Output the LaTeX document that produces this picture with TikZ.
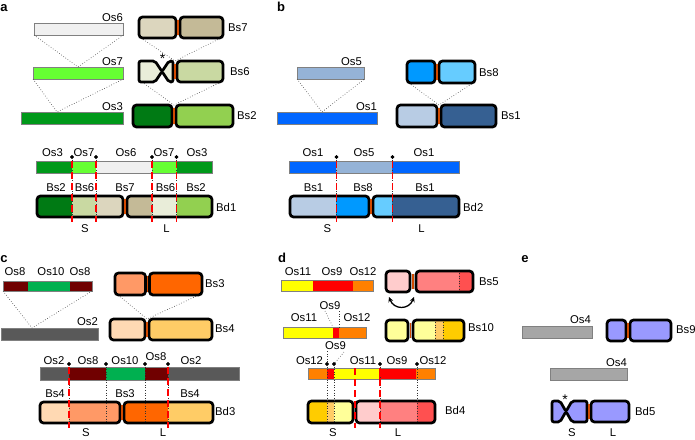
\documentclass[tikz,border=0pt]{standalone}
\usepackage{fontspec}
\setmainfont{Liberation Sans}
\usetikzlibrary{arrows.meta,positioning}
% bars (Os)
\definecolor{os1}{HTML}{0066FF}
\definecolor{os2}{HTML}{595959}
\definecolor{os3}{HTML}{00991A}
\definecolor{os4}{HTML}{A6A6A6}
\definecolor{os5}{HTML}{95B3D7}
\definecolor{os6}{HTML}{F0F0F0}
\definecolor{os7}{HTML}{66FF33}
\definecolor{os8}{HTML}{700000}
\definecolor{os9}{HTML}{FF0000}
\definecolor{os10}{HTML}{00B050}
\definecolor{os11}{HTML}{FFFF00}
\definecolor{os12}{HTML}{FF8000}
% chromosome arms (Bs)
\definecolor{bs1L}{HTML}{B8CCE4}
\definecolor{bs1R}{HTML}{366092}
\definecolor{bs2L}{HTML}{007A14}
\definecolor{bs2R}{HTML}{92D050}
\definecolor{bs3L}{HTML}{FF9966}
\definecolor{bs3R}{HTML}{FF6600}
\definecolor{bs4L}{HTML}{FFD9B3}
\definecolor{bs4R}{HTML}{FFCC66}
\definecolor{bs5L}{HTML}{FFCCCC}
\definecolor{bs5R}{HTML}{FF8080}
\definecolor{bs5E}{HTML}{FF5050}
\definecolor{bs6L}{HTML}{E9EDD9}
\definecolor{bs6R}{HTML}{C9D9A2}
\definecolor{bs7L}{HTML}{DCD6BE}
\definecolor{bs7R}{HTML}{C4BA97}
\definecolor{bs8L}{HTML}{0099FF}
\definecolor{bs8R}{HTML}{66CCFF}
\definecolor{bs9}{HTML}{9999FF}
\definecolor{bs10L}{HTML}{FFFF99}
\definecolor{bs10M}{HTML}{FFCC66}
\definecolor{bs10R}{HTML}{FFCC00}
\definecolor{cenred}{HTML}{D24A00}
\newcommand{\labsize}{\fontsize{11.3}{13}\selectfont}
\tikzset{
  osbar/.style  ={draw=black!50, line width=0.5pt},
  osnode/.style ={osbar, rectangle, anchor=north west, inner sep=0pt, minimum height=11.5pt},
  chrom/.style  ={draw=black, line width=2.7pt, rounded corners=3.5pt},
  link/.style   ={draw=black!80, line width=0.6pt, dotted},
  brk/.style    ={draw=red, line width=1.8pt, dash pattern=on 7pt off 4pt},
  lab/.style    ={font=\labsize, inner sep=0pt},
  star/.style   ={font=\fontsize{14}{16}\selectfont, inner sep=0pt},
  panel/.style  ={font=\fontsize{13}{15}\selectfont\bfseries, inner sep=0pt},
  joint/.style  ={circle, fill=black, inner sep=0pt, minimum size=3.6pt},
  swap/.style   ={{Stealth[length=5pt,width=5pt]}-{Stealth[length=5pt,width=5pt]}, line width=1.3pt},
}
% one arm of a chromosome: x0, x1, y0, y1, segments
\newcommand{\chromarm}[5]{%
  \begin{scope}
    \clip[rounded corners=3.5pt] (#1,#3) rectangle (#2,#4);
    \foreach \xa/\xb/\col in {#5} {\fill[\col] (\xa,#3) rectangle (\xb,#4);}
  \end{scope}
  \draw[chrom] (#1,#3) rectangle (#2,#4);}
\newcommand{\centro}[3]{\fill[cenred] ({#1-0.9},{#2+2.8}) rectangle ({#1+0.9},{#3-2.8});}
% bar made of segments: x0, x1, y0, y1, segments
\newcommand{\segbar}[5]{%
  \foreach \xa/\xb/\col in {#5} {\fill[\col] (\xa,#3) rectangle (\xb,#4);}
  \draw[osbar] (#1,#3) rectangle (#2,#4);}

\begin{document}
\begin{tikzpicture}[x=1pt,y=-1pt]
  \useasboundingbox (0,0) rectangle (695,439);

  %% ---------- a ----------
  \node[panel] (pa) at (4,8) {a};
  \node[osnode, fill=os6, minimum width=89pt]  (os6) at (34,23) {};
  \node[osnode, fill=os7, minimum width=90pt]  (os7) at (33,67) {};
  \node[osnode, fill=os3, minimum width=102pt] (os3) at (21,112) {};
  \node[lab, anchor=base east] (los6) at (123,21.5) {Os6};
  \node[lab, anchor=base east] (los7) at (123,65) {Os7};
  \node[lab, anchor=base east] (los3) at (123,110) {Os3};
  \coordinate (in7) at (78,67);
  \coordinate (in3) at (57,112);
  \draw[link] (os6.south west) -- (in7) -- (os6.south east);
  \draw[link] (os7.south west) -- (in3) -- (os7.south east);

  \coordinate (b7a) at (141,38);  \coordinate (b7b) at (221,38);  \coordinate (c6) at (175,61);
  \coordinate (b6a) at (142,82);  \coordinate (b6b) at (221,82);  \coordinate (c2) at (174,105);
  \draw[link] (b7a) -- (c6) -- (b7b);
  \draw[link] (b6a) -- (c2) -- (b6b);
  \chromarm{139}{176}{17}{38}{139/176/bs7L}
  \chromarm{180}{223}{17}{38}{180/223/bs7R}
  \centro{178}{17}{38}
  \draw[chrom, rounded corners=2pt, fill=bs6L] (139,61) -- (155,61) -- (162,71.5) -- (169,61)
    -- (173,61) -- (173,82) -- (169,82) -- (162,71.5) -- (155,82) -- (139,82) -- cycle;
  \chromarm{177}{223}{61}{82}{177/223/bs6R}
  \centro{175}{61}{82}
  \node[star, anchor=base] (st6) at (162.5,63) {*};
  \chromarm{133}{172}{105}{127}{133/172/bs2L}
  \chromarm{176}{233}{105}{127}{176/233/bs2R}
  \centro{174}{105}{127}
  \node[lab, anchor=west] (lbs7) at (228,27.5) {Bs7};
  \node[lab, anchor=west] (lbs6) at (230,72) {Bs6};
  \node[lab, anchor=west] (lbs2) at (237,116) {Bs2};

  % Bd1
  \segbar{36}{212}{161}{173}{36/72/os3, 72/96/os7, 96/152/os6, 152/177/os7, 177/212/os3}
  \foreach \x/\t [count=\i] in {52.5/Os3, 84/Os7, 126/Os6, 164/Os7, 197/Os3}
    \node[lab] (ta\i) at (\x,153) {\t};
  \chromarm{37}{123}{196}{217}{37/72/bs2L, 72/96/bs6R, 96/123/bs7L}
  \chromarm{127}{212}{196}{217}{127/152/bs7R, 152/177/bs6L, 177/212/bs2R}
  \centro{125}{196}{217}
  \foreach \x/\t [count=\i] in {56/Bs2, 84.5/Bs6, 125/Bs7, 165.5/Bs6, 196/Bs2}
    \node[lab] (ba\i) at (\x,188) {\t};
  \foreach \x [count=\i] in {72,96,152,176.5} {
    \node[joint] (ja\i) at (\x,157) {};
    \draw[link] (ja\i.center) -- (\x,217);
    \draw[brk] (\x,161) -- (\x,222);
    \node[joint] at (ja\i) {};
  }
  \node[lab, anchor=west] (bd1) at (216,207) {Bd1};
  \node[lab] (sa) at (85,229) {S};
  \node[lab] (la) at (166.5,229) {L};

  %% ---------- b ----------
  \node[panel] (pb) at (281,7) {b};
  \node[osnode, fill=os5, minimum width=67pt]  (os5) at (297,67) {};
  \node[osnode, fill=os1, minimum width=100pt] (os1) at (277,112) {};
  \node[lab, anchor=base east] (los5) at (362,65) {Os5};
  \node[lab, anchor=base east] (los1) at (377,110) {Os1};
  \coordinate (in1) at (322,112);
  \draw[link] (os5.south west) -- (in1) -- (os5.south east);

  \coordinate (b8a) at (409,83);  \coordinate (b8b) at (473,83);  \coordinate (c1) at (439,105);
  \draw[link] (b8a) -- (c1) -- (b8b);
  \chromarm{407}{435}{61}{83}{407/435/bs8L}
  \chromarm{439}{475}{61}{83}{439/475/bs8R}
  \centro{437}{61}{83}
  \chromarm{397}{437}{105}{127}{397/437/bs1L}
  \chromarm{441}{496}{105}{127}{441/496/bs1R}
  \centro{439}{105}{127}
  \node[lab, anchor=west] (lbs8) at (479,72.5) {Bs8};
  \node[lab, anchor=west] (lbs1) at (501,116) {Bs1};

  % Bd2
  \segbar{289}{459}{161}{173}{289/336/os1, 336/392/os5, 392/459/os1}
  \foreach \x/\t [count=\i] in {313/Os1, 364/Os5, 424/Os1}
    \node[lab] (tb\i) at (\x,153) {\t};
  \chromarm{290}{369}{196}{217}{290/336/bs1L, 336/369/bs8L}
  \chromarm{373}{459}{196}{217}{373/392/bs8R, 392/459/bs1R}
  \centro{371}{196}{217}
  \foreach \x/\t [count=\i] in {313.5/Bs1, 363/Bs8, 425/Bs1}
    \node[lab] (bb\i) at (\x,188) {\t};
  \foreach \x [count=\i] in {336.5,392.5} {
    \node[joint] (jb\i) at (\x,157) {};
    \draw[link] (jb\i.center) -- (\x,217);
    \draw[brk] (\x,161) -- (\x,222);
    \node[joint] at (jb\i) {};
  }
  \node[lab, anchor=west] (bd2) at (463,207) {Bd2};
  \node[lab] (sb) at (327.5,229) {S};
  \node[lab] (lb) at (421.5,229) {L};

  %% ---------- c ----------
  \node[panel] (pc) at (4,259) {c};
  \segbar{3}{92}{281}{291}{3/28/os8, 28/70/os10, 70/92/os8}
  \node[lab] (t8a) at (15,272) {Os8};
  \node[lab] (t10) at (51,272) {Os10};
  \node[lab] (t8b) at (80,272) {Os8};
  \node[osnode, fill=os2, minimum width=97.5pt] (os2) at (0.5,328) {};
  \node[lab, anchor=base east] (los2) at (98,325) {Os2};
  \coordinate (c8a) at (3,291);  \coordinate (c8b) at (92,291);  \coordinate (in2) at (32,328);
  \draw[link] (c8a) -- (in2) -- (c8b);

  \coordinate (b3a) at (118,295);  \coordinate (b3b) at (199,295);  \coordinate (c4) at (147,319);
  \draw[link] (b3a) -- (c4) -- (b3b);
  \chromarm{115}{145.5}{273}{295}{115/145.5/bs3L}
  \chromarm{149.5}{202}{273}{295}{149.5/202/bs3R}
  \centro{147.5}{273}{295}
  \chromarm{110}{145}{319}{340}{110/145/bs4L}
  \chromarm{149}{212}{319}{340}{149/212/bs4R}
  \centro{147}{319}{340}
  \node[lab, anchor=west] (lbs3) at (205,284) {Bs3};
  \node[lab, anchor=west] (lbs4) at (215,329) {Bs4};

  % Bd3
  \segbar{40}{239}{367}{380}{40/69/os2, 69/106/os8, 106/145/os10, 145/168/os8, 168/239/os2}
  \node[lab] (tc1) at (54,361) {Os2};
  \node[lab] (tc2) at (88,361) {Os8};
  \node[lab] (tc3) at (125,361) {Os10};
  \node[lab] (tc4) at (156,357) {Os8};
  \node[lab] (tc5) at (191,361) {Os2};
  \chromarm{40}{120}{402}{423}{40/69/bs4L, 69/120/bs3L}
  \chromarm{124}{213}{402}{423}{124/168/bs3R, 168/213/bs4R}
  \centro{122}{402}{423}
  \foreach \x/\t [count=\i] in {55/Bs4, 125/Bs3, 190/Bs4}
    \node[lab] (bc\i) at (\x,394) {\t};
  \foreach \x [count=\i] in {69,106,145,168} {
    \node[joint] (jc\i) at (\x,364) {};
    \draw[link] (jc\i.center) -- (\x,423);
  }
  \foreach \x in {69,168} \draw[brk] (\x,367) -- (\x,428);
  \foreach \i in {1,...,4} \node[joint] at (jc\i) {};
  \node[lab, anchor=west] (bd3) at (215,411) {Bd3};
  \node[lab] (sc) at (86,433) {S};
  \node[lab] (lc) at (163,433) {L};

  %% ---------- d ----------
  \node[panel] (pd) at (282,258) {d};
  \segbar{281}{373}{280}{291}{281/313/os11, 313/353/os9, 353/373/os12}
  \node[lab] (td1) at (298,272) {Os11};
  \node[lab] (td2) at (332,272) {Os9};
  \node[lab] (td3) at (363,272) {Os12};
  \chromarm{386}{410}{271}{292}{386/410/bs5L}
  \chromarm{416}{473}{271}{292}{416/459/bs5R, 459/473/bs5E}
  \centro{413}{271}{292}
  \draw[link] (459,273) -- (459,290);
  \node[lab, anchor=west] (lbs5) at (479,282) {Bs5};
  \coordinate (sw1) at (389,297);  \coordinate (sw2) at (414,297);
  \draw[swap] (sw1) .. controls (394,310) and (409,310) .. (sw2);

  \segbar{283}{366}{327}{338}{283/333/os11, 333/339/os9, 339/366/os12}
  \node[lab] (te1) at (330,306) {Os9};
  \node[lab] (te2) at (304,318) {Os11};
  \node[lab] (te3) at (357,318) {Os12};
  \coordinate (e9a) at (325,311);  \coordinate (e9b) at (333,327);
  \coordinate (e9c) at (339,311);  \coordinate (e9d) at (339,327);
  \draw[link] (e9a) -- (e9b);
  \draw[link] (e9c) -- (e9d);
  \chromarm{386}{408}{320}{341}{386/408/bs10L}
  \chromarm{413}{464}{320}{341}{413/435/bs10L, 435/443/bs10M, 443/464/bs10R}
  \centro{410.5}{320}{341}
  \draw[link] (435,322) -- (435,339);
  \draw[link] (443,322) -- (443,339);
  \node[lab, anchor=west] (lbs10) at (468,328) {Bs10};

  % Bd4
  \segbar{308}{435}{368}{379}{308/327/os12, 327/334/os9, 334/379/os11, 379/416/os9, 416/435/os12}
  \node[lab] (tf1) at (309.5,361) {Os12};
  \node[lab] (tf2) at (335.5,346) {Os9};
  \node[lab] (tf3) at (363,361) {Os11};
  \node[lab] (tf4) at (397,361) {Os9};
  \node[lab] (tf5) at (433,361) {Os12};
  \chromarm{308}{353}{401}{423}{308/327/bs10R, 327/334/bs10M, 334/353/bs10L}
  \chromarm{356}{435}{401}{423}{356/380/bs5L, 380/417/bs5R, 417/435/bs5E}
  \foreach \x [count=\i] in {327,334,380,417} {
    \node[joint] (jd\i) at (\x,364) {};
    \draw[link] (jd\i.center) -- (\x,423);
  }
  \draw[link] (jd1) -- (327,351);
  \draw[link] (jd2) -- (344,352);
  \foreach \x in {355,380} \draw[brk] (\x,368) -- (\x,428);
  \foreach \i in {1,...,4} \node[joint] at (jd\i) {};
  \node[lab, anchor=west] (bd4) at (445,410) {Bd4};
  \node[lab] (sd) at (333,433) {S};
  \node[lab] (ld) at (398,433) {L};

  %% ---------- e ----------
  \node[panel] (pe) at (525,259) {e};
  \node[osnode, fill=os4, minimum width=70pt] (os4a) at (522,326) {};
  \node[lab, anchor=base east] (los4a) at (591,323) {Os4};
  \chromarm{607}{626}{320}{341}{607/626/bs9}
  \chromarm{630}{671}{320}{341}{630/671/bs9}
  \centro{628}{320}{341}
  \node[lab, anchor=west] (lbs9) at (676,330) {Bs9};
  \node[osnode, fill=os4, minimum width=77pt] (os4b) at (550,368) {};
  \node[lab, anchor=base east] (los4b) at (627,366) {Os4};
  \draw[chrom, rounded corners=2pt, fill=bs9] (552,401) -- (560,401) -- (566,411.5) -- (572,401)
    -- (587,401) -- (587,422) -- (572,422) -- (566,411.5) -- (560,422) -- (552,422) -- cycle;
  \chromarm{591}{629}{401}{422}{591/629/bs9}
  \centro{589}{401}{422}
  \node[star, anchor=base] (st5) at (565,404) {*};
  \node[lab, anchor=west] (bd5) at (635,411) {Bd5};
  \node[lab] (se) at (572,433) {S};
  \node[lab] (le) at (613,433) {L};
\end{tikzpicture}
\end{document}
